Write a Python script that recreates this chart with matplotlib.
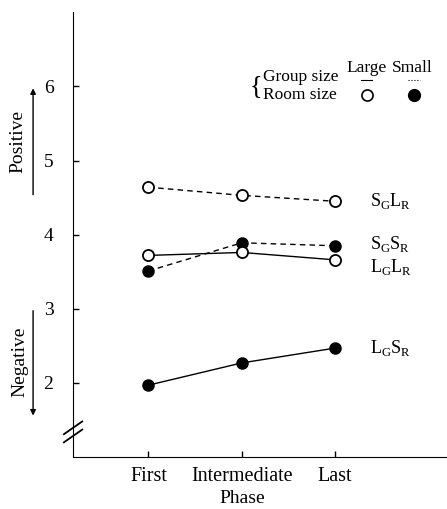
import matplotlib.pyplot as plt
from matplotlib.lines import Line2D

plt.rcParams['font.family'] = ['Liberation Serif', 'DejaVu Serif']
plt.rcParams['mathtext.fontset'] = 'custom'
plt.rcParams['mathtext.rm'] = 'Liberation Serif'

phases = ['First', 'Intermediate', 'Last']
sg_lr = [4.64, 4.53, 4.45]
sg_sr = [3.51, 3.89, 3.85]
lg_lr = [3.72, 3.76, 3.66]
lg_sr = [1.97, 2.27, 2.47]
yticks = [2, 3, 4, 5, 6]

fig = plt.figure(figsize=(4.47, 5.09), dpi=100)
ax = fig.add_axes([0.163, 0.102, 0.837, 0.874])
x = [1, 2, 3]

ax.plot(x, sg_lr, '--', color='black', lw=1, marker='o', ms=8, mfc='white', mec='black', mew=1.3, dashes=(4, 3))
ax.plot(x, sg_sr, '--', color='black', lw=1, marker='o', ms=8, mfc='black', mec='black', dashes=(4, 3))
ax.plot(x, lg_lr, '-', color='black', lw=1, marker='o', ms=8, mfc='white', mec='black', mew=1.3)
ax.plot(x, lg_sr, '-', color='black', lw=1, marker='o', ms=8, mfc='black', mec='black')

ax.set_xlim(0.19, 4.2)
ax.set_ylim(1.0, 7.0)
ax.set_xticks(x)
ax.set_xticklabels(phases, fontsize=14.5)
ax.set_yticks(yticks)
ax.set_yticklabels([str(v) for v in yticks], fontsize=14)
ax.tick_params(direction='in', length=4, width=1, pad=7)
ax.tick_params(axis='y', pad=14)
ax.spines['top'].set_visible(False)
ax.spines['right'].set_visible(False)
# x label placed by hand so it sits just above the bottom edge
fig.text(0.541, 0.004, 'Phase', fontsize=14, ha='center', va='bottom')

# curve labels
ax.text(3.38, 4.45, r'S$_{\mathrm{G}}$L$_{\mathrm{R}}$', fontsize=13, va='center')
ax.text(3.38, 3.87, r'S$_{\mathrm{G}}$S$_{\mathrm{R}}$', fontsize=13, va='center')
ax.text(3.38, 3.57, r'L$_{\mathrm{G}}$L$_{\mathrm{R}}$', fontsize=13, va='center')
ax.text(3.38, 2.47, r'L$_{\mathrm{G}}$S$_{\mathrm{R}}$', fontsize=13, va='center')

# legend block
ax.text(3.34, 6.25, 'Large', fontsize=12.5, ha='center', va='center')
ax.text(3.83, 6.25, 'Small', fontsize=12.5, ha='center', va='center')
ax.text(2.23, 6.12, 'Group size', fontsize=12.5, va='center')
ax.text(2.23, 5.89, 'Room size', fontsize=12.5, va='center')
ax.text(2.22, 6.0, '{', fontsize=19, ha='right', va='center')
ax.plot([3.28, 3.40], [6.08, 6.08], '-', color='black', lw=0.8, clip_on=False)
ax.plot([3.78, 3.91], [6.08, 6.08], ':', color='black', lw=0.8, clip_on=False)
ax.plot([3.34], [5.89], 'o', ms=8, mfc='white', mec='black', mew=1.2, clip_on=False)
ax.plot([3.85], [5.89], 'o', ms=8.5, mfc='black', mec='black', clip_on=False)

# side labels with arrows
fig.text(0.04, 0.722, 'Positive', rotation=90, fontsize=14, ha='center', va='center')
fig.text(0.045, 0.289, 'Negative', rotation=90, fontsize=14, ha='center', va='center')
fig.add_artist(plt.Annotation('', xy=(0.074, 0.832), xytext=(0.074, 0.612), xycoords='figure fraction',
                              arrowprops=dict(arrowstyle='-|>', color='black', lw=1, mutation_scale=8)))
fig.add_artist(plt.Annotation('', xy=(0.074, 0.178), xytext=(0.074, 0.395), xycoords='figure fraction',
                              arrowprops=dict(arrowstyle='-|>', color='black', lw=1, mutation_scale=8)))

# axis break marks
for y0 in [0.147, 0.131]:
    fig.add_artist(Line2D([0.143, 0.184], [y0, y0 + 0.025], color='black', lw=1.3))

fig.savefig('out.png', dpi=100)
